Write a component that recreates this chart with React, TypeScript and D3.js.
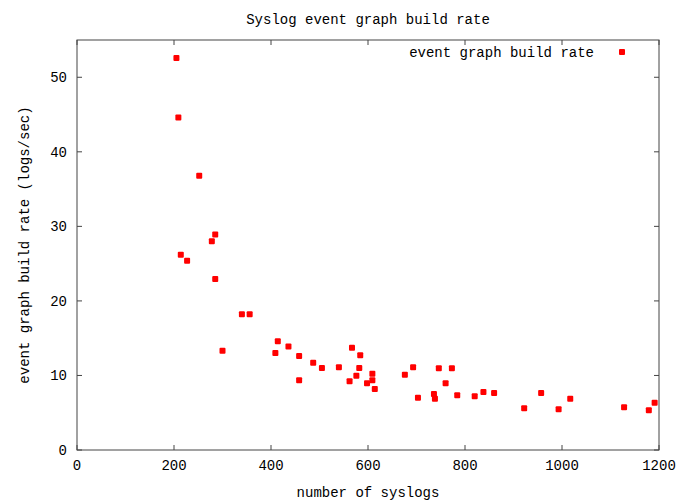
import React from "react";
import * as d3 from "d3";

const syslogCounts = [205, 209, 252, 285, 278, 214, 227, 285, 340, 356, 300, 414, 409, 436, 458, 458, 487, 505, 540, 567, 584, 582, 576, 562, 609, 609, 598, 614, 676, 693, 703, 736, 738, 746, 760, 773, 784, 820, 838, 860, 922, 957, 993, 1017, 1128, 1179, 1191];
const buildRates = [52.6, 44.6, 36.8, 28.9, 28.0, 26.2, 25.4, 22.95, 18.2, 18.2, 13.3, 14.6, 13.0, 13.9, 12.6, 9.36, 11.7, 11.0, 11.1, 13.7, 12.7, 11.0, 9.97, 9.22, 10.24, 9.36, 8.95, 8.19, 10.1, 11.1, 7.02, 7.52, 6.89, 10.97, 8.95, 10.97, 7.34, 7.21, 7.79, 7.65, 5.6, 7.65, 5.46, 6.89, 5.73, 5.33, 6.35];
const xTicks = [0, 200, 400, 600, 800, 1000, 1200];
const yTicks = [0, 10, 20, 30, 40, 50];
const title = "Syslog event graph build rate";
const xLabel = "number of syslogs";
const yLabel = "event graph build rate (logs/sec)";
const seriesName = "event graph build rate";

const W = 682, H = 502;
const left = 77, right = 659, top = 40, bottom = 450;
const font = "'Liberation Mono', 'DejaVu Sans Mono', monospace";
const tick = 5;

export default function App() {
  const x = d3.scaleLinear().domain([0, 1200]).range([left, right]);
  const y = d3.scaleLinear().domain([0, 55]).range([bottom, top]);
  const pts = syslogCounts.map((c, i) => [c, buildRates[i]]);
  const frame = "#444";
  return (
    <svg width={W} height={H} style={{ position: "absolute", left: 0, top: 0, background: "#fff" }} fontFamily={font} fontSize={14}>
      <rect x={0} y={0} width={W} height={H} fill="#fff" />
      <text x={(left + right) / 2} y={24} textAnchor="middle" fill="#000">{title}</text>
      {xTicks.map((t) => (
        <g key={"x" + t}>
          <line x1={x(t)} x2={x(t)} y1={bottom} y2={bottom - tick} stroke={frame} />
          <line x1={x(t)} x2={x(t)} y1={top} y2={top + tick} stroke={frame} />
          <text x={x(t)} y={470} textAnchor="middle" fill="#000">{t}</text>
        </g>
      ))}
      {yTicks.map((t) => (
        <g key={"y" + t}>
          <line x1={left} x2={left + tick} y1={y(t)} y2={y(t)} stroke={frame} />
          <line x1={right} x2={right - tick} y1={y(t)} y2={y(t)} stroke={frame} />
          <text x={67} y={y(t) + 5} textAnchor="end" fill="#000">{t}</text>
        </g>
      ))}
      <rect x={left} y={top} width={right - left} height={bottom - top} fill="none" stroke={frame} />
      <text x={(left + right) / 2} y={497} textAnchor="middle" fill="#000">{xLabel}</text>
      <text transform={`translate(29,${(top + bottom) / 2}) rotate(-90)`} textAnchor="middle" fill="#000">{yLabel}</text>
      <text x={594} y={57} textAnchor="end" fill="#000">{seriesName}</text>
      <rect x={619} y={49} width={6} height={6} rx={1} fill="#f00" />
      {pts.map((p, i) => (
        <rect key={i} x={x(p[0]) - 3} y={y(p[1]) - 3} width={6} height={6} rx={1} fill="#f00" />
      ))}
    </svg>
  );
}
